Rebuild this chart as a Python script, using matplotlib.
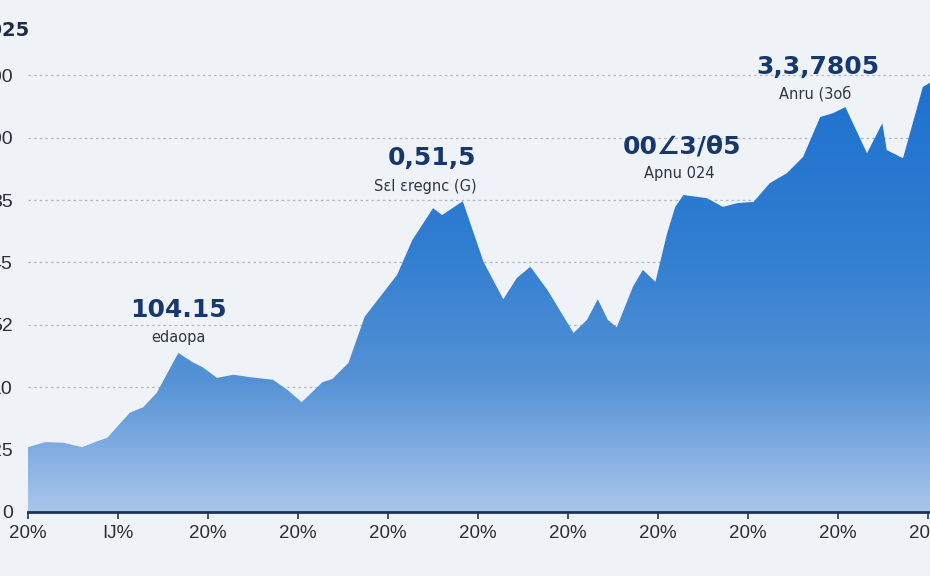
import numpy as np
import matplotlib
matplotlib.use("Agg")
import matplotlib.pyplot as plt
from matplotlib.colors import LinearSegmentedColormap

# ---- data ----
x_vals = [0.00, 0.19, 0.39, 0.60, 0.80, 0.88, 1.13, 1.28, 1.43, 1.67, 1.83, 1.94,
          2.10, 2.28, 2.47, 2.72, 2.88, 3.04, 3.27, 3.38, 3.56, 3.74, 4.10, 4.27,
          4.50, 4.60, 4.83, 5.06, 5.28, 5.43, 5.58, 5.77, 6.06, 6.21, 6.33, 6.44,
          6.54, 6.72, 6.83, 6.97, 7.10, 7.19, 7.28, 7.54, 7.72, 7.88, 8.06, 8.24,
          8.43, 8.61, 8.80, 8.94, 9.08, 9.32, 9.49, 9.54, 9.72, 9.94, 10.02]
y_vals = [1.04, 1.12, 1.11, 1.04, 1.15, 1.19, 1.59, 1.68, 1.91, 2.55, 2.40, 2.32,
          2.15, 2.20, 2.16, 2.12, 1.96, 1.76, 2.08, 2.13, 2.39, 3.13, 3.80, 4.36,
          4.87, 4.76, 4.98, 4.01, 3.41, 3.75, 3.93, 3.56, 2.87, 3.08, 3.41, 3.08,
          2.96, 3.61, 3.88, 3.69, 4.47, 4.89, 5.08, 5.03, 4.89, 4.95, 4.97, 5.27,
          5.43, 5.69, 6.33, 6.39, 6.49, 5.75, 6.23, 5.80, 5.67, 6.81, 6.88]

x_ticks = [0, 1, 2, 3, 4, 5, 6, 7, 8, 9, 10]
x_labels = ["20%", "IJ%", "20%", "20%", "20%", "20%", "20%", "20%", "20%", "20%", "20%"]
y_ticks = [0, 1, 2, 3, 4, 5, 6, 7]
y_labels = ["0", "25", "10", "52", "45", "35", "100", "200"]

ann_values = ["104.15", "0,51,5", "00\u22203/\u03b85", "3,3,7805"]
ann_subs = ["edaopa", "S\u025bl \u025bregnc (G)", "Apnu 024", "Anru (3o\u0431"]
title_text = "2025"

NARROW = ["Liberation Sans", "DejaVu Sans"]

# ---- figure ----
BG = "#eff3f8"
fig = plt.figure(figsize=(9.30, 5.76), dpi=100, facecolor=BG)
ax = fig.add_axes([28 / 930, 64 / 576, 902 / 930, (512 - 56.5) / 576])
ax.set_facecolor(BG)
ax.set_xlim(0, 10.02)
ax.set_ylim(0, 7.3)

# gradient-filled area
cmap = LinearSegmentedColormap.from_list(
    "blues", [(0.0, "#a8c6eb"), (0.12, "#88b1e3"), (0.3, "#5592d5"),
              (0.6, "#317ed1"), (1.0, "#1d71cf")])
poly = ax.fill_between(x_vals, 0, y_vals, color="none", lw=0, zorder=2)
grad = np.linspace(0, 1, 256).reshape(-1, 1)
img = ax.imshow(grad, cmap=cmap, origin="lower", aspect="auto",
                extent=[0, 10.02, 0, 7.0], zorder=2, interpolation="bilinear")
img.set_clip_path(poly.get_paths()[0], transform=ax.transData)

# grid
ax.set_yticks(y_ticks)
ax.set_yticklabels(y_labels)
ax.yaxis.grid(True, color="#aeb6c2", linestyle=(0, (2, 2.5)), linewidth=0.9, zorder=1)
ax.set_axisbelow(True)
ax.tick_params(axis="y", length=0, pad=11, labelsize=14, labelcolor="#2a2f38")
for lab in ax.get_yticklabels():
    lab.set_fontfamily(NARROW)

ax.set_xticks(x_ticks)
ax.set_xticklabels(x_labels)
ax.tick_params(axis="x", length=5, width=1.2, color="#1e3359", pad=4,
               labelsize=13.5, labelcolor="#2a2f38")
for lab in ax.get_xticklabels():
    lab.set_fontfamily(NARROW)

for s in ["top", "right", "left"]:
    ax.spines[s].set_visible(False)
ax.spines["bottom"].set_color("#1e3359")
ax.spines["bottom"].set_linewidth(2)
ax.spines["bottom"].set_zorder(5)

# annotations
ann_pos = [(1.67, 3.24), (4.49, 5.67), (7.26, 5.85), (8.77, 7.13)]
sub_pos = [(1.67, 2.79), (4.41, 5.22), (7.24, 5.42), (8.74, 6.70)]
for (vx, vy), txt in zip(ann_pos, ann_values):
    ax.text(vx, vy, txt, ha="center", va="center", fontsize=18,
            fontweight="bold", color="#17386d", zorder=6)
for (sx, sy), txt in zip(sub_pos, ann_subs):
    ax.text(sx, sy, txt, ha="center", va="center", fontsize=10.5,
            color="#2f3746", zorder=6)

fig.text(30 / 930, 1 - 30 / 576, title_text, ha="right", va="center",
         fontsize=14, fontweight="bold", color="#1f2a44")

fig.savefig("out.png", dpi=100, facecolor=BG)
